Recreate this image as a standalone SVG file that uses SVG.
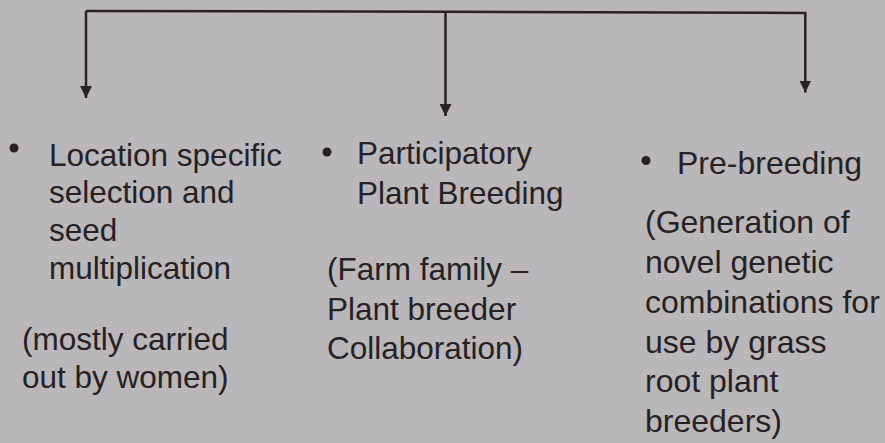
<svg xmlns="http://www.w3.org/2000/svg" width="885" height="443" viewBox="0 0 885 443">
<style>
.t{font-family:"Liberation Sans",Arial,sans-serif;font-size:31.5px;fill:#272124}
.r{font-size:32px}
.ln{stroke:#2a2224;stroke-width:2.5;fill:none}
.b{fill:#272124}
</style>
<defs>
<marker id="ah" viewBox="0 0 12 12" refX="12" refY="6" markerWidth="12" markerHeight="12" markerUnits="userSpaceOnUse" orient="auto">
<path d="M0,0 L12,6 L0,12 Z" fill="#2a2224"/>
</marker>
</defs>
<rect width="885" height="443" fill="#b9b7ba"/>
<g id="connectors">
<polyline class="ln" points="86,11 445.5,11.7 805.3,13 805.3,92.5" marker-end="url(#ah)"/>
<path class="ln" d="M86,11 L86,98" marker-end="url(#ah)"/>
<path class="ln" d="M445.5,11.7 L445.5,116" marker-end="url(#ah)"/>
</g>
<g id="node-location">
<circle class="b" cx="14" cy="148" r="4.5"/>
<text class="t" x="49" y="166">Location specific</text>
<text class="t" x="49" y="203">selection and</text>
<text class="t" x="49" y="241">seed</text>
<text class="t" x="49" y="279">multiplication</text>
<text class="t" x="22" y="350">(mostly carried</text>
<text class="t" x="22" y="388">out by women)</text>
</g>
<g id="node-participatory">
<circle class="b" cx="327" cy="152" r="4.5"/>
<text class="t" x="357" y="164">Participatory</text>
<text class="t" x="357" y="204">Plant Breeding</text>
<text class="t" x="327" y="280">(Farm family –</text>
<text class="t" x="327" y="320">Plant breeder</text>
<text class="t" x="327" y="359">Collaboration)</text>
</g>
<g id="node-prebreeding">
<circle class="b" cx="646" cy="160.5" r="4.5"/>
<text class="t r" x="677" y="174">Pre-breeding</text>
<text class="t r" x="645" y="233">(Generation of</text>
<text class="t r" x="645" y="273">novel genetic</text>
<text class="t r" x="645" y="313">combinations for</text>
<text class="t r" x="645" y="353">use by grass</text>
<text class="t r" x="645" y="392">root plant</text>
<text class="t r" x="645" y="432">breeders)</text>
</g>
</svg>
